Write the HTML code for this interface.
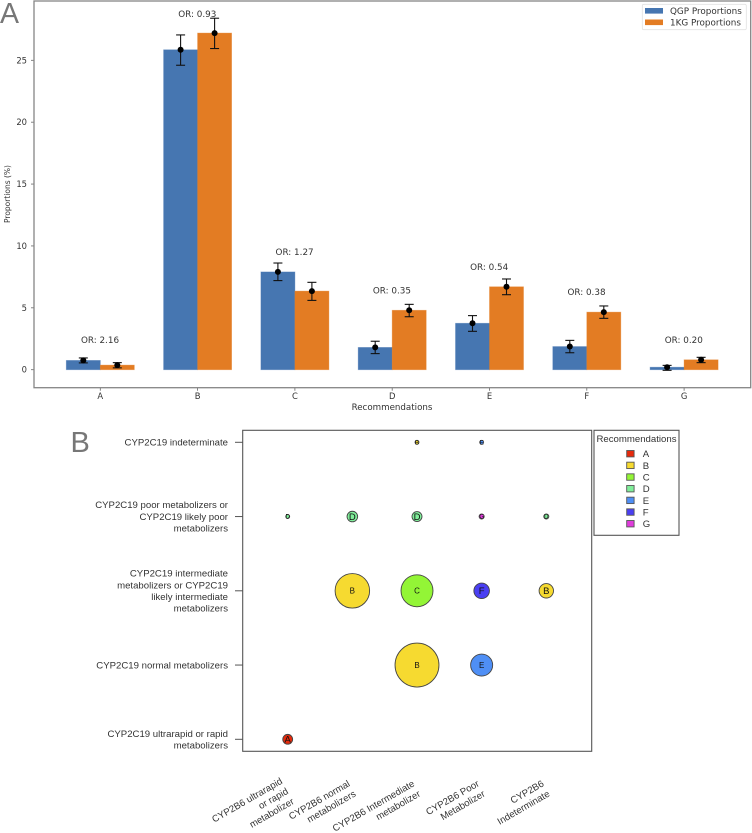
<!DOCTYPE html>
<html lang="en">
<head>
<meta charset="utf-8">
<title>CYP2C19 and CYP2B6 recommendations</title>
<style>
html,body{margin:0;padding:0;background:#fff;width:752px;height:833px;overflow:hidden}
svg{display:block;filter:blur(0.35px)}
.mpl{font-family:"DejaVu Sans","Liberation Sans",sans-serif;fill:#333}
.lib{font-family:"Liberation Sans",sans-serif;fill:#333}
</style>
</head>
<body>
<svg id="figure" xmlns="http://www.w3.org/2000/svg" width="752" height="833" viewBox="0 0 752 833">
  <rect width="752" height="833" fill="#fff"/>
  <text class="lib" x="0" y="23" font-size="28.5" style="fill:#777">A</text>
  <text class="lib" x="70.5" y="452" font-size="29" style="fill:#777">B</text>
  <g id="panelA"></g>
  <g id="panelB"></g>
</svg>
<script>
const categories = ['A','B','C','D','E','F','G'];
const qgpValues = [0.75,25.85,7.9,1.8,3.75,1.87,0.2];
const kgValues = [0.37,27.2,6.35,4.8,6.7,4.65,0.8];
const qgpLow = [0.55,24.6,7.2,1.3,3.1,1.37,-0.05];
const qgpHigh = [0.95,27.05,8.62,2.3,4.37,2.37,0.35];
const kgLow = [0.15,25.95,5.6,4.28,6.06,4.15,0.57];
const kgHigh = [0.57,28.4,7.06,5.28,7.33,5.15,1.0];
const oddsRatios = ['2.16','0.93','1.27','0.35','0.54','0.38','0.20'];
const oddsLabelHeights = [2.38,28.76,9.52,6.4,8.3,6.27,2.4];
const yTickValues = [0,5,10,15,20,25];
const seriesNames = ['QGP Proportions','1KG Proportions'];

const cyp2b6Labels = [
  ['CYP2B6 ultrarapid','or rapid','metabolizer'],
  ['CYP2B6 normal','metabolizers'],
  ['CYP2B6 Intermediate','metabolizer'],
  ['CYP2B6 Poor','Metabolizer'],
  ['CYP2B6','Indeterminate']
];
const cyp2c19Labels = [
  ['CYP2C19 ultrarapid or rapid','metabolizers'],
  ['CYP2C19 normal metabolizers'],
  ['CYP2C19 intermediate','metabolizers or CYP2C19','likely intermediate','metabolizers'],
  ['CYP2C19 poor metabolizers or','CYP2C19 likely poor','metabolizers'],
  ['CYP2C19 indeterminate']
];
const bubbleColumn = [0,2,3,1,2,3,4,0,1,2,3,4,2,3];
const bubbleRow = [0,1,1,2,2,2,2,3,3,3,3,3,4,4];
const bubbleGroup = ['A','B','E','B','C','F','B','D','D','D','G','D','B','E'];
const bubbleShare = [0.75,14.9,3.75,9.2,7.9,1.87,1.6,0.12,0.87,0.77,0.2,0.2,0.12,0.12];
const legendGroups = ['A','B','C','D','E','F','G'];
const groupColors = {A:'#e62a0c',B:'#f6da30',C:'#93f536',D:'#80ee9a',E:'#4f8ff5',F:'#4a3ff2',G:'#e03cdc'};

const NS = 'http://www.w3.org/2000/svg';
function make(parent, tag, attrs, text) {
  const el = document.createElementNS(NS, tag);
  for (const k in attrs) el.setAttribute(k, attrs[k]);
  if (text !== undefined) el.textContent = text;
  parent.appendChild(el);
  return el;
}

/* ---------- Panel A ---------- */
const panelA = document.getElementById('panelA');
const catStep = 97.3, catStart = 100.3, unitPx = 12.376, zeroY = 369.7, barW = 34;
const xA = i => catStart + i * catStep;
const yA = v => zeroY - v * unitPx;
const AX = {l:34, t:1, r:750.7, b:387.7};
const axisGrey = '#858585';

function drawBar(i, val, off, color, name) {
  const r = make(panelA, 'rect', {x:xA(i)+off, y:yA(val), width:barW, height:Math.max(0,zeroY-yA(val)), fill:color, stroke:color, 'stroke-opacity':'0.45', 'stroke-width':'0.8'});
  
  
}
function drawErr(i, val, lo, hi, off, name) {
  const g = make(panelA, 'g', {stroke:'#111', 'stroke-width':'1.1', fill:'none'});
  
  
  const cx = xA(i) + off;
  make(g, 'line', {x1:cx, x2:cx, y1:yA(lo), y2:yA(hi)});
  make(g, 'line', {x1:cx-4.5, x2:cx+4.5, y1:yA(lo), y2:yA(lo)});
  make(g, 'line', {x1:cx-4.5, x2:cx+4.5, y1:yA(hi), y2:yA(hi)});
  make(g, 'circle', {cx:cx, cy:yA(val), r:3, fill:'#000', stroke:'none'});
}
categories.forEach((c, i) => {
  drawBar(i, qgpValues[i], -barW, '#4676b1', 'qgp');
  drawBar(i, kgValues[i], 0, '#e37c23', '1kg');
});
categories.forEach((c, i) => {
  drawErr(i, qgpValues[i], qgpLow[i], qgpHigh[i], -17, 'qgp');
  drawErr(i, kgValues[i], kgLow[i], kgHigh[i], 17, '1kg');
  const t = make(panelA, 'text', {class:'mpl', x:xA(i)-0.3, y:yA(oddsLabelHeights[i])+3, 'font-size':'8.8', 'text-anchor':'middle'}, 'OR: ' + oddsRatios[i]);
  
  
  const tick = make(panelA, 'line', {x1:xA(i), x2:xA(i), y1:AX.b, y2:AX.b+3, stroke:'#666', 'stroke-width':'0.8'});
  
  
  const lab = make(panelA, 'text', {class:'mpl', x:xA(i), y:AX.b+11.5, 'font-size':'8.4', 'text-anchor':'middle'}, c);
  
  
});
yTickValues.forEach(v => {
  const tick = make(panelA, 'line', {x1:AX.l-3, x2:AX.l, y1:yA(v), y2:yA(v), stroke:'#666', 'stroke-width':'0.8'});
  
  
  const lab = make(panelA, 'text', {class:'mpl', x:AX.l-7, y:yA(v)+3, 'font-size':'8.4', 'text-anchor':'end'}, String(v));
  
  
});
const frameA = make(panelA, 'rect', {x:AX.l, y:AX.t, width:AX.r-AX.l, height:AX.b-AX.t, fill:'none', stroke:axisGrey, 'stroke-width':'1.3'});


const xTitle = make(panelA, 'text', {class:'mpl', x:392, y:409.8, 'font-size':'8.7', 'text-anchor':'middle'}, 'Recommendations');


const yTitle = make(panelA, 'text', {class:'mpl', x:0, y:0, 'font-size':'7.5', 'text-anchor':'middle', transform:'translate(10,194) rotate(-90)'}, 'Proportions (%)');



const legendA = make(panelA, 'g', {});


make(legendA, 'rect', {x:642.3, y:4.3, width:104, height:25.4, rx:1.5, fill:'#fff', stroke:'#e2e2e2', 'stroke-width':'0.8'});
seriesNames.forEach((s, i) => {
  const sw = make(legendA, 'rect', {x:645, y:8+i*11.5, width:18, height:5.6, fill:i===0?'#4676b1':'#e37c23'});
  
  
  const t = make(legendA, 'text', {class:'mpl', x:670, y:14+i*11.4, 'font-size':'8.8'}, s);
  
  
});

/* ---------- Panel B ---------- */
const panelB = document.getElementById('panelB');
const BX = {l:242.7, t:430.3, r:591.7, b:751.3};
const colStep = 64.65, colStart = 287.7, rowStep = 74.25, rowStart = 739.3, areaScale = 5.69;
const xB = i => colStart + i * colStep;
const yB = i => rowStart - i * rowStep;
const rB = s => Math.sqrt(s) * areaScale;

bubbleShare.forEach((s, i) => {
  const g = make(panelB, 'g', {});
  
  
  const r = rB(s);
  make(g, 'circle', {cx:xB(bubbleColumn[i]), cy:yB(bubbleRow[i]), r:r, fill:groupColors[bubbleGroup[i]], stroke:'#444', 'stroke-width':'0.9'});
  const fs = r < 3 ? 6 : (r < 9 ? 9.5 : 8);
  make(g, 'text', {class:'lib', x:xB(bubbleColumn[i]), y:yB(bubbleRow[i])+fs*0.35, 'font-size':fs, 'text-anchor':'middle', style:'fill:#111'}, bubbleGroup[i]);
});
const frameB = make(panelB, 'rect', {x:BX.l, y:BX.t, width:BX.r-BX.l, height:BX.b-BX.t, fill:'none', stroke:'#555', 'stroke-width':'1.1'});



cyp2c19Labels.forEach((lines, i) => {
  const tick = make(panelB, 'line', {x1:235, x2:BX.l, y1:yB(i), y2:yB(i), stroke:'#555', 'stroke-width':'1'});
  
  
  const t = make(panelB, 'text', {class:'lib', 'font-size':'9.6', 'text-anchor':'end'});
  
  
  const top = yB(i) + 3.3 - (lines.length - 1) * 11.7 / 2;
  lines.forEach((ln, k) => make(t, 'tspan', {x:228, y:top + k * 11.7}, ln));
});
cyp2b6Labels.forEach((lines, i) => {
  const n = lines.length;
  const ax = xB(i) - 1.7 - (n - 2) * 2.9;
  const ay = 785.5 - (n - 2) * 2.5;
  const t = make(panelB, 'text', {class:'lib', 'font-size':'9.6', 'text-anchor':'end', transform:'translate(' + ax + ',' + ay + ') rotate(-30)'});
  
  
  lines.forEach((ln, k) => make(t, 'tspan', {x:0, y:k * 11.7}, ln));
});

const legendB = make(panelB, 'g', {});


make(legendB, 'rect', {x:594, y:430.3, width:85, height:105, fill:'#fff', stroke:'#555', 'stroke-width':'1.1'});
make(legendB, 'text', {class:'lib', x:636.5, y:441.8, 'font-size':'9.6', 'text-anchor':'middle'}, 'Recommendations');
legendGroups.forEach((c, i) => {
  const sw = make(legendB, 'rect', {x:626.7, y:450.5+i*11.67, width:7.4, height:6.4, fill:groupColors[c], stroke:'#555', 'stroke-width':'0.9'});
  
  
  const t = make(legendB, 'text', {class:'lib', x:642.7, y:457.2+i*11.67, 'font-size':'9.6'}, c);
  
  
});
</script>
</body>
</html>
